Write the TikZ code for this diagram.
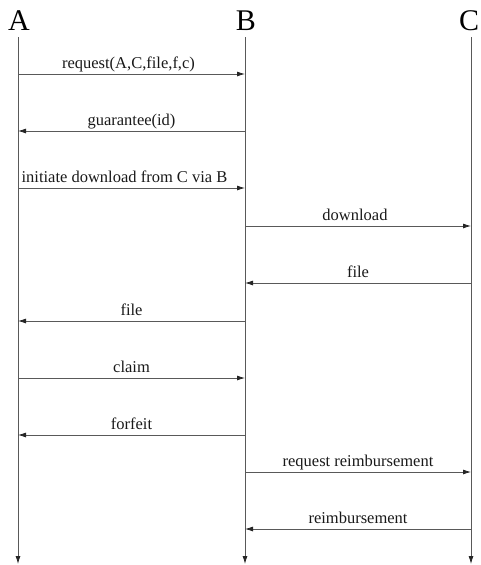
\documentclass[tikz,border=0pt]{standalone}
\usepackage{fontspec}
\setmainfont{Liberation Serif}
\usetikzlibrary{arrows.meta}
\begin{document}
\begin{tikzpicture}[x=1pt,y=-1pt,
  line width=0.8pt,
  wire/.style={draw=black!65},
  msg/.style={wire,-{Latex[length=8pt,width=5pt,color=black!85]}},
  lifeline/.style={wire,-{Latex[length=8pt,width=5pt,color=black!85]}},
  actor/.style={font=\fontsize{30}{30}\selectfont,anchor=base,inner sep=0pt},
  lbl/.style={font=\fontsize{16.5}{17}\selectfont,anchor=base,inner sep=0pt,yshift=5.5pt,text=black!90}]
\useasboundingbox (0,0) rectangle (481,565);
% actors
\node[actor] (A) at (19,30) {A};
\node[actor] (B) at (246,30) {B};
\node[actor] (C) at (469,30) {C};
% lifeline coordinates
\coordinate (At) at (18,37);
\coordinate (Bt) at (245,37);
\coordinate (Ct) at (471,37);
\coordinate (Ab) at (18,564);
\coordinate (Bb) at (245,564);
\coordinate (Cb) at (471,564);
\draw[lifeline] (At) -- (Ab);
\draw[lifeline] (Bt) -- (Bb);
\draw[lifeline] (Ct) -- (Cb);
% message endpoints
\foreach \n/\y in {1/74,2/131,3/188,4/226,5/283,6/321,7/378,8/435,9/472,10/529}{
  \coordinate (a\n) at (18,\y);
  \coordinate (b\n) at (245,\y);
  \coordinate (c\n) at (471,\y);
}
\draw[msg] (a1) -- node[lbl,xshift=-3pt] (m1) {request(A,C,file,f,c)} (b1);
\draw[msg] (b2) -- node[lbl] (m2) {guarantee(id)} (a2);
\draw[msg] (a3) -- node[lbl,xshift=-7pt] (m3) {initiate download from C via B} (b3);
\draw[msg] (b4) -- node[lbl,xshift=-3pt] (m4) {download} (c4);
\draw[msg] (c5) -- node[lbl] (m5) {file} (b5);
\draw[msg] (b6) -- node[lbl] (m6) {file} (a6);
\draw[msg] (a7) -- node[lbl] (m7) {claim} (b7);
\draw[msg] (b8) -- node[lbl] (m8) {forfeit} (a8);
\draw[msg] (b9) -- node[lbl] (m9) {request reimbursement} (c9);
\draw[msg] (c10) -- node[lbl] (m10) {reimbursement} (b10);
\end{tikzpicture}
\end{document}
